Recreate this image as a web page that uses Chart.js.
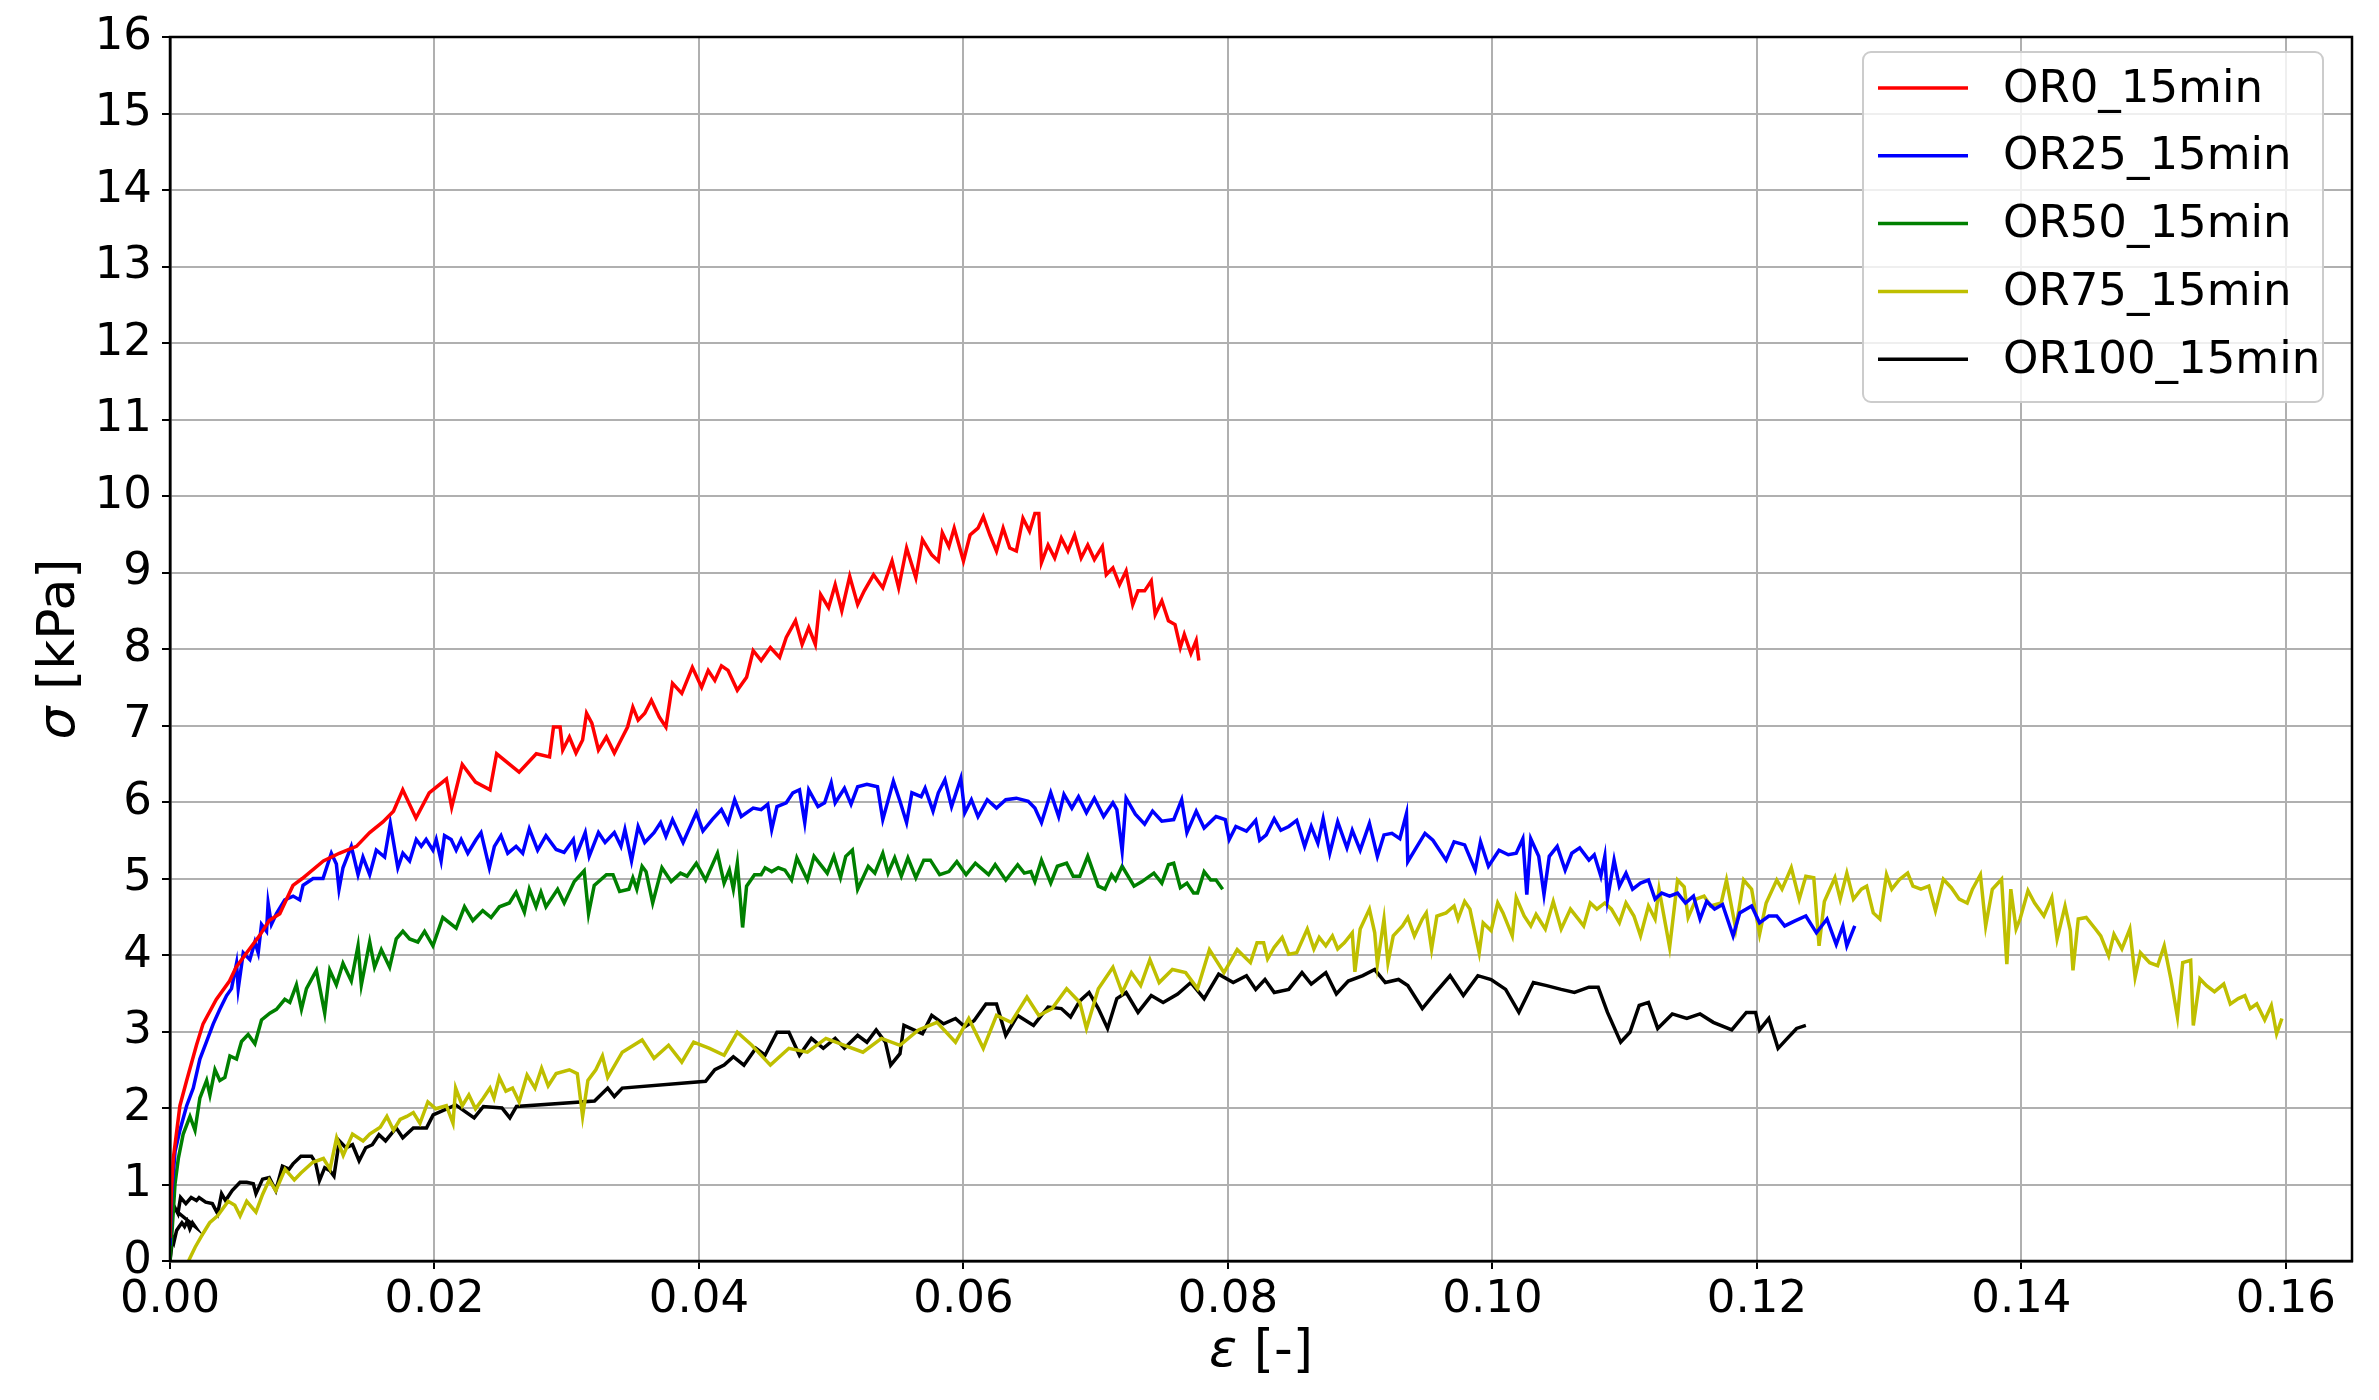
<!DOCTYPE html>
<html>
<head>
<meta charset="utf-8">
<script src="https://cdn.jsdelivr.net/npm/chart.js@4.4.1/dist/chart.umd.min.js"></script>
<style>
  body { margin: 0; background: #fff; }
  #wrap { width: 2379px; height: 1400px; }
</style>
</head>
<body>
<div id="wrap"><canvas id="stressStrain" width="2379" height="1400"></canvas></div>
<script>
// series names and colours (matplotlib r, b, g, y, k)
const seriesNames = ['OR0_15min', 'OR25_15min', 'OR50_15min', 'OR75_15min', 'OR100_15min'];
const seriesColors = ['#ff0000', '#0000ff', '#008000', '#bfbf00', '#000000'];

// axis ticks
const strainTicks = [0, 0.02, 0.04, 0.06, 0.08, 0.10, 0.12, 0.14, 0.16];
const stressTicks = [0, 1, 2, 3, 4, 5, 6, 7, 8, 9, 10, 11, 12, 13, 14, 15, 16];

// OR0 - strain [-] / stress [kPa]
const or0Strain = [0, 0.0001, 0.00025, 0.00075, 0.00126, 0.002, 0.0025, 0.0035, 0.0045, 0.005, 0.0058, 0.0068, 0.0075, 0.0083, 0.0093, 0.01, 0.0116, 0.0128, 0.0141, 0.0151, 0.0161, 0.0169, 0.0176, 0.0186, 0.0196, 0.0209, 0.0213, 0.0221, 0.0231, 0.0242, 0.0247, 0.0264, 0.0277,
  0.0287, 0.0290, 0.0295, 0.0297, 0.0302, 0.0307, 0.0312, 0.0315, 0.0319, 0.0324, 0.0330, 0.0336, 0.0341, 0.0346, 0.0350, 0.0354, 0.0359, 0.0364, 0.0370, 0.0375, 0.0380, 0.0387, 0.0395, 0.0402, 0.0407, 0.0412, 0.0417, 0.0422, 0.0429, 0.0436, 0.0441, 0.0447, 0.0454, 0.0461, 0.0466, 0.0473, 0.0478, 0.0483, 0.0488, 0.0492, 0.0498, 0.0503, 0.0508, 0.0514, 0.0520, 0.0525, 0.0532, 0.0539, 0.0546, 0.0551, 0.0557, 0.0564, 0.0569, 0.0576, 0.0581, 0.0584, 0.0589, 0.0593, 0.0600, 0.0605, 0.0611, 0.0615, 0.0620, 0.0625, 0.0630, 0.0635, 0.0640, 0.0645, 0.0650, 0.0654, 0.0657, 0.0659, 0.0664, 0.0669, 0.0674, 0.0679, 0.0684, 0.0689, 0.0694, 0.0699, 0.0705, 0.0708, 0.0713, 0.0718, 0.0723, 0.0728, 0.0732, 0.0737, 0.0742, 0.0745, 0.0750, 0.0755, 0.0760, 0.0764, 0.0767, 0.0772, 0.0776, 0.0778];
const or0Stress = [0.3, 0.9, 1.34, 2.03, 2.36, 2.82, 3.1, 3.42, 3.66, 3.84, 4.03, 4.26, 4.45, 4.54, 4.91, 5.0, 5.23, 5.33, 5.42, 5.6, 5.74, 5.88, 6.16, 5.79, 6.12, 6.3, 5.93, 6.49, 6.26, 6.16, 6.63, 6.39, 6.63,
  6.59, 6.98, 6.98, 6.68, 6.85, 6.64, 6.81, 7.16, 7.03, 6.68, 6.85, 6.64, 6.81, 6.98, 7.24, 7.07, 7.16, 7.33, 7.11, 6.98, 7.55, 7.42, 7.76, 7.50, 7.72, 7.59, 7.78, 7.72, 7.46, 7.63, 7.98, 7.85, 8.02, 7.89, 8.15, 8.37, 8.06, 8.28, 8.06, 8.71, 8.54, 8.84, 8.50, 8.95, 8.58, 8.76, 8.97, 8.80, 9.15, 8.80, 9.32, 8.93, 9.43, 9.23, 9.15, 9.52, 9.34, 9.58, 9.15, 9.49, 9.58, 9.73, 9.49, 9.28, 9.58, 9.32, 9.28, 9.71, 9.54, 9.77, 9.77, 9.13, 9.36, 9.19, 9.45, 9.28, 9.49, 9.19, 9.36, 9.17, 9.34, 8.97, 9.06, 8.84, 9.02, 8.58, 8.76, 8.76, 8.89, 8.45, 8.63, 8.37, 8.32, 8.02, 8.19, 7.94, 8.11, 7.85];

// OR25
const or25Strain = [0, 0.00013, 0.00038, 0.00075, 0.00126, 0.00176, 0.00226, 0.00277, 0.00327, 0.00377, 0.00428, 0.00465, 0.00503, 0.00516, 0.00554, 0.00604, 0.00642, 0.00667, 0.00692, 0.0073, 0.00742, 0.00767, 0.00805, 0.00868, 0.00931, 0.00981, 0.01006, 0.01082, 0.01157, 0.0122, 0.01258, 0.01278, 0.01308, 0.01371, 0.01422, 0.01459, 0.0151, 0.0156, 0.01623, 0.01666, 0.01723, 0.01761, 0.01812, 0.01862, 0.019, 0.01937, 0.01988, 0.02013, 0.0205, 0.02076, 0.02126, 0.02164, 0.02202, 0.02252, 0.02315, 0.02352, 0.02415, 0.02453, 0.02503, 0.02554, 0.02617, 0.02667, 0.02717, 0.0278, 0.02843,
  0.0292, 0.0298, 0.0305, 0.0307, 0.0314, 0.0317, 0.0324, 0.0329, 0.0336, 0.0341, 0.0344, 0.0349, 0.0354, 0.0359, 0.0366, 0.0371, 0.0375, 0.0380, 0.0388, 0.0398, 0.0403, 0.0410, 0.0417, 0.0422, 0.0427, 0.0432, 0.0441, 0.0447, 0.0452, 0.0455, 0.0459, 0.0466, 0.0471, 0.0476, 0.0480, 0.0483, 0.0490, 0.0495, 0.0500, 0.0503, 0.0510, 0.0515, 0.0520, 0.0527, 0.0535, 0.0539, 0.0547, 0.0552, 0.0557, 0.0561, 0.0568, 0.0571, 0.0577, 0.0581, 0.0586, 0.0591, 0.0598, 0.0601, 0.0606, 0.0611, 0.0618, 0.0625, 0.0632, 0.0640, 0.0649, 0.0654, 0.0659, 0.0666, 0.0672, 0.0676, 0.0682, 0.0687, 0.0693, 0.0699, 0.0706, 0.0713, 0.0716, 0.0720, 0.0723, 0.0730, 0.0737, 0.0743, 0.0750, 0.0759, 0.0765, 0.0769, 0.0776, 0.0782, 0.0791, 0.0798, 0.0801, 0.0806, 0.0814,
  0.0821, 0.0824, 0.0829, 0.0835, 0.0840, 0.0846, 0.0852, 0.0858, 0.0863, 0.0868, 0.0872, 0.0877, 0.0883, 0.0890, 0.0894, 0.0900, 0.0907, 0.0913, 0.0918, 0.0924, 0.0930, 0.0935, 0.0936, 0.0943, 0.0949, 0.0955, 0.0965, 0.0971, 0.0979, 0.0987, 0.0991, 0.0997, 0.1005, 0.1012, 0.1018, 0.1023, 0.1026, 0.1029, 0.1035, 0.1039, 0.1043, 0.1049, 0.1055, 0.1060, 0.1066, 0.1073, 0.1077, 0.1082, 0.1085, 0.1087, 0.1092, 0.1096, 0.1101, 0.1106, 0.1112, 0.1118, 0.1123, 0.1128, 0.1134, 0.1140, 0.1146, 0.1152, 0.1157, 0.1162, 0.1168, 0.1174, 0.1182, 0.1187, 0.1196, 0.1202, 0.1209, 0.1215, 0.1221, 0.1228, 0.1237, 0.1245, 0.1253, 0.1260, 0.1265, 0.1268, 0.1274];
const or25Stress = [0.2, 0.87, 1.43, 1.71, 2.03, 2.26, 2.64, 2.87, 3.1, 3.29, 3.47, 3.56, 3.89, 3.56, 4.03, 3.94, 4.17, 4.03, 4.4, 4.31, 4.68, 4.4, 4.54, 4.72, 4.77, 4.72, 4.91, 5.0, 5.0, 5.33, 5.19, 4.86, 5.14, 5.42, 5.05, 5.28, 5.05, 5.37, 5.28, 5.72, 5.14, 5.33, 5.23, 5.51, 5.42, 5.51, 5.37, 5.51, 5.23, 5.56, 5.51, 5.37, 5.51, 5.33, 5.51, 5.6, 5.14, 5.42, 5.56, 5.33, 5.42, 5.33, 5.65, 5.37, 5.56,
  5.38, 5.34, 5.51, 5.29, 5.6, 5.29, 5.6, 5.47, 5.6, 5.42, 5.64, 5.23, 5.68, 5.47, 5.6, 5.73, 5.55, 5.77, 5.47, 5.86, 5.62, 5.77, 5.9, 5.73, 6.03, 5.81, 5.92, 5.9, 5.97, 5.64, 5.94, 5.99, 6.12, 6.16, 5.73, 6.16, 5.94, 5.99, 6.25, 5.99, 6.18, 5.97, 6.20, 6.23, 6.20, 5.77, 6.27, 6.01, 5.73, 6.12, 6.07, 6.18, 5.88, 6.12, 6.29, 5.94, 6.31, 5.86, 6.03, 5.81, 6.03, 5.92, 6.03, 6.05, 6.01, 5.92, 5.73, 6.12, 5.81, 6.10, 5.92, 6.07, 5.86, 6.05, 5.81, 5.99, 5.90, 5.36, 6.05, 5.84, 5.71, 5.88, 5.75, 5.77, 6.03, 5.60, 5.88, 5.66, 5.81, 5.77, 5.51, 5.68, 5.62,
  5.76, 5.50, 5.57, 5.78, 5.63, 5.68, 5.76, 5.42, 5.68, 5.46, 5.78, 5.33, 5.74, 5.40, 5.63, 5.37, 5.72, 5.29, 5.57, 5.59, 5.52, 5.85, 5.22, 5.42, 5.59, 5.50, 5.24, 5.48, 5.44, 5.11, 5.48, 5.16, 5.37, 5.31, 5.33, 5.52, 4.79, 5.52, 5.29, 4.79, 5.29, 5.42, 5.11, 5.33, 5.40, 5.24, 5.31, 5.03, 5.29, 4.73, 5.24, 4.90, 5.07, 4.86, 4.94, 4.98, 4.73, 4.81, 4.77, 4.81, 4.68, 4.77, 4.47, 4.70, 4.60, 4.66, 4.25, 4.55, 4.64, 4.42, 4.51, 4.51, 4.38, 4.44, 4.51, 4.29, 4.47, 4.14, 4.38, 4.12, 4.38];

// OR50
const or50Strain = [0, 0.00013, 0.00038, 0.00063, 0.001, 0.00151, 0.00189, 0.00226, 0.00277, 0.00302, 0.0034, 0.00377, 0.00415, 0.00453, 0.00503, 0.00541, 0.00591, 0.00642, 0.00692, 0.00755, 0.00805, 0.00868, 0.00906, 0.00956, 0.00994, 0.01032, 0.01107, 0.0117, 0.01208, 0.01258, 0.01308, 0.01371, 0.01422, 0.01447, 0.0151, 0.01547, 0.01598, 0.01661, 0.01711, 0.01761, 0.01812, 0.01874, 0.01925, 0.01988, 0.02063, 0.02164, 0.02227, 0.0229, 0.02365, 0.02428, 0.02491, 0.02566, 0.02617, 0.0268, 0.02717, 0.02768, 0.02805, 0.02843, 0.02931, 0.02981, 0.03057, 0.03132, 0.03165, 0.03208,
  0.0330, 0.0335, 0.0340, 0.0347, 0.0350, 0.0353, 0.0357, 0.0360, 0.0365, 0.0372, 0.0379, 0.0386, 0.0391, 0.0398, 0.0405, 0.0414, 0.0419, 0.0423, 0.0426, 0.0429, 0.0433, 0.0436, 0.0442, 0.0447, 0.0450, 0.0455, 0.0460, 0.0465, 0.0470, 0.0474, 0.0482, 0.0487, 0.0497, 0.0502, 0.0507, 0.0511, 0.0516, 0.0520, 0.0528, 0.0533, 0.0539, 0.0543, 0.0548, 0.0553, 0.0558, 0.0564, 0.0570, 0.0575, 0.0582, 0.0589, 0.0595, 0.0602, 0.0609, 0.0619, 0.0624, 0.0632, 0.0641, 0.0646, 0.0651, 0.0654, 0.0659, 0.0666, 0.0671, 0.0678, 0.0683, 0.0688, 0.0694, 0.0702, 0.0707, 0.0712, 0.0715, 0.0720, 0.0729, 0.0735, 0.0744, 0.0750, 0.0755, 0.0759, 0.0764, 0.0769, 0.0774, 0.0777, 0.0782, 0.0787, 0.0791, 0.0796];
const or50Stress = [0, 0.32, 1.01, 1.34, 1.66, 1.89, 1.71, 2.13, 2.36, 2.17, 2.5, 2.36, 2.4, 2.68, 2.64, 2.87, 2.96, 2.84, 3.15, 3.24, 3.29, 3.42, 3.38, 3.61, 3.29, 3.56, 3.8, 3.24, 3.8, 3.61, 3.89, 3.66, 4.12, 3.61, 4.17, 3.84, 4.07, 3.84, 4.21, 4.31, 4.21, 4.17, 4.31, 4.12, 4.49, 4.35, 4.63, 4.45, 4.58, 4.49, 4.63, 4.68, 4.82, 4.56, 4.86, 4.63, 4.82, 4.63, 4.86, 4.68, 4.96, 5.10, 4.54, 4.91,
  5.05, 5.05, 4.83, 4.86, 5.01, 4.86, 5.16, 5.09, 4.68, 5.14, 4.96, 5.07, 5.03, 5.20, 4.98, 5.33, 4.94, 5.11, 4.86, 5.20, 4.36, 4.90, 5.05, 5.05, 5.14, 5.09, 5.14, 5.11, 4.98, 5.27, 4.98, 5.29, 5.07, 5.29, 5.01, 5.29, 5.37, 4.86, 5.16, 5.07, 5.33, 5.07, 5.27, 5.03, 5.27, 5.01, 5.24, 5.24, 5.05, 5.09, 5.22, 5.05, 5.20, 5.05, 5.18, 4.98, 5.18, 5.07, 5.09, 4.96, 5.24, 4.94, 5.16, 5.20, 5.03, 5.03, 5.29, 4.90, 4.86, 5.05, 4.98, 5.16, 4.90, 4.96, 5.07, 4.94, 5.18, 5.20, 4.88, 4.94, 4.81, 4.81, 5.09, 4.98, 4.98, 4.86];

// OR75
const or75Strain = [0.0014, 0.0019, 0.0025, 0.003, 0.0036, 0.0044, 0.0049, 0.0053, 0.0058, 0.0065, 0.007, 0.0075, 0.008, 0.0087, 0.0094, 0.0099, 0.0108, 0.0116, 0.0121, 0.0126, 0.0131, 0.0138, 0.0146, 0.0151, 0.0159, 0.0164, 0.0169, 0.0174, 0.0179, 0.0184, 0.0189, 0.0195, 0.0201, 0.0209, 0.0214, 0.0216, 0.0221, 0.0226, 0.0231, 0.0237, 0.0242, 0.0245, 0.0249, 0.0254, 0.0259, 0.0264, 0.027, 0.0276, 0.0281, 0.0286, 0.0292, 0.0302, 0.0308, 0.0312, 0.0316, 0.0322, 0.0327, 0.0331,
  0.0342, 0.0357, 0.0366, 0.0377, 0.0387, 0.0396, 0.0408, 0.0419, 0.0429, 0.0440, 0.0454, 0.0468, 0.0482, 0.0496, 0.0510, 0.0524, 0.0538, 0.0552, 0.0566, 0.0580, 0.0594, 0.0604, 0.0615, 0.0625, 0.0636, 0.0648, 0.0657, 0.0667, 0.0678, 0.0688, 0.0693, 0.0702, 0.0713, 0.0720, 0.0727, 0.0734, 0.0741, 0.0748, 0.0758, 0.0768, 0.0777, 0.0786, 0.0797, 0.0807, 0.0817,
  0.0822, 0.0827, 0.0830, 0.0835, 0.0841, 0.0846, 0.0852, 0.0860, 0.0865, 0.0869, 0.0874, 0.0879, 0.0883, 0.0888, 0.0894, 0.0896, 0.0900, 0.0907, 0.0911, 0.0913, 0.0918, 0.0921, 0.0925, 0.0932, 0.0936, 0.0941, 0.0947, 0.0950, 0.0954, 0.0958, 0.0965, 0.0971, 0.0974, 0.0979, 0.0983, 0.0990, 0.0993, 0.0999, 0.1004, 0.1008, 0.1015, 0.1018, 0.1024, 0.1029, 0.1033, 0.1040, 0.1046, 0.1052, 0.1059, 0.1065, 0.1069, 0.1074, 0.1079, 0.1085, 0.1090, 0.1096, 0.1101, 0.1107, 0.1112, 0.1118, 0.1123, 0.1126, 0.1134, 0.1140, 0.1145, 0.1148, 0.1154, 0.1160, 0.1165, 0.1173, 0.1177, 0.1184, 0.1190, 0.1196, 0.1202, 0.1207, 0.1215, 0.1219, 0.1226, 0.1232, 0.1237, 0.1243, 0.1247, 0.1251, 0.1259, 0.1263, 0.1268, 0.1273, 0.1279, 0.1283, 0.1288, 0.1293, 0.1298, 0.1302,
  0.1308, 0.1314, 0.1318, 0.1324, 0.1330, 0.1335, 0.1341, 0.1347, 0.1353, 0.1359, 0.1363, 0.1369, 0.1373, 0.1378, 0.1385, 0.1389, 0.1392, 0.1396, 0.1399, 0.1405, 0.1410, 0.1417, 0.1423, 0.1427, 0.1433, 0.1437, 0.1439, 0.1443, 0.1449, 0.1456, 0.1460, 0.1466, 0.1470, 0.1476, 0.1482, 0.1486, 0.1490, 0.1497, 0.1503, 0.1508, 0.1513, 0.1518, 0.1522, 0.1528, 0.1530, 0.1535, 0.1540, 0.1546, 0.1553, 0.1558, 0.1564, 0.1569, 0.1573, 0.1578, 0.1584, 0.1589, 0.1593, 0.1597];
const or75Stress = [0, 0.18, 0.36, 0.5, 0.59, 0.78, 0.73, 0.59, 0.78, 0.64, 0.87, 1.06, 0.92, 1.2, 1.06, 1.15, 1.29, 1.34, 1.2, 1.61, 1.38, 1.66, 1.57, 1.66, 1.75, 1.89, 1.71, 1.85, 1.89, 1.94, 1.8, 2.08, 1.99, 2.03, 1.80, 2.26, 2.03, 2.17, 1.99, 2.13, 2.26, 2.13, 2.4, 2.22, 2.26, 2.08, 2.43, 2.26, 2.52, 2.29, 2.45, 2.5, 2.45, 1.89, 2.36, 2.5, 2.68, 2.40,
  2.73, 2.89, 2.65, 2.82, 2.60, 2.86, 2.78, 2.69, 2.99, 2.82, 2.56, 2.78, 2.73, 2.91, 2.82, 2.73, 2.91, 2.82, 3.02, 3.12, 2.86, 3.17, 2.78, 3.21, 3.12, 3.45, 3.21, 3.30, 3.56, 3.38, 3.04, 3.56, 3.84, 3.51, 3.77, 3.60, 3.94, 3.64, 3.81, 3.77, 3.56, 4.07, 3.77, 4.07, 3.90,
  4.16, 4.16, 3.95, 4.10, 4.23, 4.01, 4.03, 4.34, 4.08, 4.23, 4.12, 4.25, 4.08, 4.16, 4.29, 3.78, 4.34, 4.60, 4.29, 3.88, 4.47, 3.90, 4.25, 4.38, 4.49, 4.25, 4.47, 4.55, 4.08, 4.51, 4.55, 4.64, 4.47, 4.70, 4.60, 4.03, 4.42, 4.32, 4.68, 4.55, 4.25, 4.75, 4.51, 4.38, 4.53, 4.34, 4.70, 4.34, 4.60, 4.47, 4.38, 4.68, 4.60, 4.68, 4.60, 4.42, 4.68, 4.51, 4.25, 4.64, 4.47, 4.86, 4.10, 4.98, 4.89, 4.49, 4.73, 4.77, 4.64, 4.68, 4.98, 4.34, 4.98, 4.86, 4.27, 4.68, 4.98, 4.86, 5.14, 4.73, 5.03, 5.01, 4.12, 4.70, 5.01, 4.73, 5.07, 4.73, 4.86, 4.90, 4.55, 4.47, 5.05, 4.86,
  4.99, 5.07, 4.90, 4.86, 4.90, 4.58, 4.99, 4.88, 4.73, 4.68, 4.86, 5.05, 4.38, 4.86, 4.99, 3.88, 4.86, 4.34, 4.47, 4.84, 4.68, 4.51, 4.75, 4.21, 4.64, 4.32, 3.80, 4.47, 4.49, 4.34, 4.25, 3.99, 4.27, 4.08, 4.34, 3.71, 4.03, 3.90, 3.86, 4.12, 3.69, 3.19, 3.90, 3.93, 3.08, 3.69, 3.60, 3.52, 3.62, 3.36, 3.43, 3.47, 3.30, 3.36, 3.15, 3.34, 2.97, 3.17];

// OR100
const or100Strain = [0, 0.0001, 0.0002, 0.0003, 0.0005, 0.0007, 0.0009, 0.0011, 0.0013, 0.0015, 0.0017, 0.0019, 0.0005, 0.0002, 0.0001, 0.0003, 0.0006,
  0.0008, 0.0012, 0.0016, 0.002, 0.0022, 0.0027, 0.0032, 0.0036, 0.0039, 0.0042, 0.0047, 0.0053, 0.0058, 0.0063, 0.0065, 0.0070, 0.0075, 0.0080, 0.0085, 0.0090, 0.0093, 0.0099, 0.0107, 0.0110, 0.0113, 0.0117, 0.0121, 0.0124, 0.0128, 0.0133, 0.0138, 0.0143, 0.0148, 0.0153, 0.0158, 0.0163, 0.0171, 0.0176, 0.0184, 0.0194, 0.0199,
  0.0216, 0.0230, 0.0237, 0.0251, 0.0257, 0.0262, 0.0321, 0.0331, 0.0336, 0.0342, 0.0405, 0.0412, 0.0419, 0.0426, 0.0434, 0.0443, 0.0450, 0.0459, 0.0468, 0.0476, 0.0485, 0.0494, 0.0503, 0.0510, 0.0520, 0.0527, 0.0534, 0.0541, 0.0545, 0.0552, 0.0555, 0.0569, 0.0576, 0.0585, 0.0594, 0.0601, 0.0608, 0.0617, 0.0625, 0.0632, 0.0641, 0.0653, 0.0664, 0.0674, 0.0681, 0.0688, 0.0695, 0.0702, 0.0709, 0.0716, 0.0723, 0.0732, 0.0742, 0.0751, 0.0762, 0.0772, 0.0782, 0.0793, 0.0804, 0.0814, 0.0821, 0.0828, 0.0835, 0.0846, 0.0856, 0.0863, 0.0874, 0.0882, 0.0891, 0.0902, 0.0911, 0.0919, 0.0929, 0.0936, 0.0947, 0.0957, 0.0968, 0.0978, 0.0989, 0.0999, 0.1010, 0.1020, 0.1031, 0.1041, 0.1052, 0.1062, 0.1073, 0.1080, 0.1087, 0.1097, 0.1104, 0.1111, 0.1118, 0.1125, 0.1136, 0.1147, 0.1157, 0.1167, 0.1181, 0.1192, 0.1199, 0.1202, 0.1209, 0.1216, 0.1223, 0.1230, 0.1237];
const or100Stress = [0, 0.15, 0.3, 0.25, 0.4, 0.45, 0.5, 0.45, 0.52, 0.42, 0.5, 0.45, 0.65, 0.7, 0.6, 0.72, 0.62,
  0.83, 0.75, 0.83, 0.79, 0.83, 0.77, 0.75, 0.62, 0.88, 0.79, 0.92, 1.03, 1.03, 1.01, 0.88, 1.07, 1.09, 0.92, 1.24, 1.2, 1.27, 1.37, 1.37, 1.29, 1.05, 1.22, 1.18, 1.11, 1.57, 1.48, 1.52, 1.31, 1.48, 1.52, 1.65, 1.57, 1.74, 1.61, 1.74, 1.74, 1.91,
  2.04, 1.87, 2.02, 2.00, 1.87, 2.02, 2.09, 2.26, 2.15, 2.26, 2.35, 2.50, 2.56, 2.67, 2.56, 2.78, 2.69, 2.99, 2.99, 2.69, 2.91, 2.78, 2.91, 2.78, 2.95, 2.86, 3.02, 2.86, 2.56, 2.71, 3.08, 2.97, 3.21, 3.10, 3.17, 3.06, 3.14, 3.36, 3.36, 2.95, 3.21, 3.08, 3.32, 3.30, 3.19, 3.40, 3.51, 3.30, 3.04, 3.43, 3.51, 3.25, 3.47, 3.38, 3.49, 3.64, 3.43, 3.75, 3.64, 3.73, 3.55, 3.68, 3.51, 3.55, 3.77, 3.62, 3.77, 3.49, 3.66, 3.73, 3.81, 3.64, 3.68, 3.60, 3.30, 3.51, 3.73, 3.47, 3.73, 3.68, 3.55, 3.25, 3.64, 3.60, 3.55, 3.51, 3.58, 3.58, 3.25, 2.86, 2.99, 3.34, 3.38, 3.04, 3.23, 3.17, 3.23, 3.12, 3.02, 3.25, 3.25, 3.02, 3.17, 2.78, 2.91, 3.04, 3.08];

const strainSets = [or0Strain, or25Strain, or50Strain, or75Strain, or100Strain];
const stressSets = [or0Stress, or25Stress, or50Stress, or75Stress, or100Stress];

const FONT = 'DejaVu Sans';

const datasets = seriesNames.map((name, i) => ({
  label: name,
  data: strainSets[i].map((x, j) => ({ x: x, y: stressSets[i][j] })),
  borderColor: seriesColors[i],
  backgroundColor: seriesColors[i],
  borderWidth: 3.5,
  pointRadius: 0,
  showLine: true,
  tension: 0
}));

// top and right spines, like matplotlib's box
const frameBox = {
  id: 'frameBox',
  afterDatasetsDraw(chart) {
    const { ctx, chartArea: a } = chart;
    ctx.save();
    ctx.strokeStyle = '#000';
    ctx.lineWidth = 2.5;
    ctx.strokeRect(a.left, a.top, a.right - a.left, a.bottom - a.top);
    ctx.restore();
  }
};

// axis titles with italic greek symbol
const axisTitles = {
  id: 'axisTitles',
  afterDraw(chart) {
    const { ctx, chartArea: a } = chart;
    const drawTitle = (sym, rest, cx, cy, rot) => {
      ctx.save();
      ctx.translate(cx, cy);
      ctx.rotate(rot);
      ctx.fillStyle = '#000';
      ctx.textBaseline = 'middle';
      ctx.font = 'italic 52px "' + FONT + '"';
      const w1 = ctx.measureText(sym).width;
      ctx.font = '52px "' + FONT + '"';
      const w2 = ctx.measureText(rest).width;
      let x = -(w1 + w2) / 2;
      ctx.font = 'italic 52px "' + FONT + '"';
      ctx.fillText(sym, x, 0);
      ctx.font = '52px "' + FONT + '"';
      ctx.fillText(rest, x + w1, 0);
      ctx.restore();
    };
    drawTitle('ε', ' [-]', (a.left + a.right) / 2, 1352, 0);
    drawTitle('σ', ' [kPa]', 60, (a.top + a.bottom) / 2, -Math.PI / 2);
  }
};

// matplotlib-like legend in the upper right corner
const boxLegend = {
  id: 'boxLegend',
  afterDraw(chart) {
    const { ctx } = chart;
    const x0 = 1863, y0 = 52, w = 460, h = 350, r = 8;
    ctx.save();
    ctx.beginPath();
    ctx.roundRect(x0, y0, w, h, r);
    ctx.fillStyle = 'rgba(255,255,255,0.8)';
    ctx.fill();
    ctx.strokeStyle = '#cccccc';
    ctx.lineWidth = 2;
    ctx.stroke();
    ctx.font = '45px "' + FONT + '"';
    ctx.textBaseline = 'middle';
    chart.data.datasets.forEach((ds, i) => {
      const y = 88 + i * 67.8;
      ctx.strokeStyle = ds.borderColor;
      ctx.lineWidth = 3.5;
      ctx.beginPath();
      ctx.moveTo(1878, y);
      ctx.lineTo(1968, y);
      ctx.stroke();
      ctx.fillStyle = '#000';
      ctx.fillText(ds.label, 2003, y + 2);
    });
    ctx.restore();
  }
};

const tickFont = { family: FONT, size: 45 };

new Chart(document.getElementById('stressStrain'), {
  type: 'scatter',
  data: { datasets: datasets },
  options: {
    responsive: false,
    animation: false,
    devicePixelRatio: 1,
    layout: { padding: { left: 0, right: 27, top: 30, bottom: 0 } },
    plugins: { legend: { display: false }, tooltip: { enabled: false } },
    scales: {
      x: {
        type: 'linear',
        min: strainTicks[0],
        max: 0.165,
        afterFit: s => { s.height = 139; },
        afterBuildTicks: s => { s.ticks = strainTicks.map(v => ({ value: v })); },
        ticks: { font: tickFont, color: '#000', padding: 4, maxRotation: 0, callback: v => v.toFixed(2) },
        grid: { color: '#b0b0b0', lineWidth: 2, tickColor: '#000', tickLength: 8, tickWidth: 2 },
        border: { color: '#000', width: 2.5 }
      },
      y: {
        type: 'linear',
        min: stressTicks[0],
        max: stressTicks[stressTicks.length - 1],
        afterFit: s => { s.width = 170; },
        afterBuildTicks: s => { s.ticks = stressTicks.map(v => ({ value: v })); },
        ticks: { font: tickFont, color: '#000', padding: 10, callback: v => String(v) },
        grid: { color: '#b0b0b0', lineWidth: 2, tickColor: '#000', tickLength: 8, tickWidth: 2 },
        border: { color: '#000', width: 2.5 }
      }
    }
  },
  plugins: [frameBox, axisTitles, boxLegend]
});
</script>
</body>
</html>
